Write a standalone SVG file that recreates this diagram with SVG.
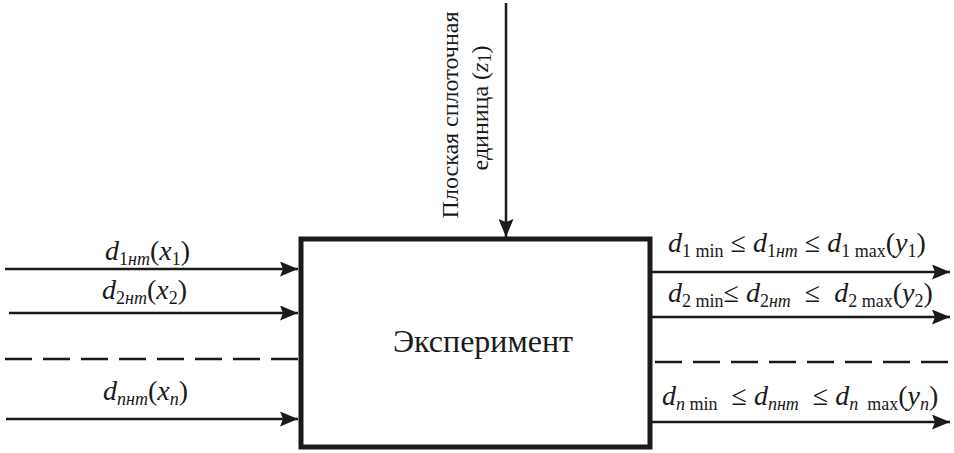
<svg xmlns="http://www.w3.org/2000/svg" width="954" height="453" viewBox="0 0 954 453">
<defs>
<marker id="ah" markerUnits="userSpaceOnUse" markerWidth="19" markerHeight="15" refX="18" refY="7.5" orient="auto" viewBox="0 0 19 15">
<path d="M0,0 L18,7.5 L0,15 L3,7.5 z" fill="#1a1a1a"/>
</marker>
<style>
text{font-family:"Liberation Serif","Times New Roman",serif;fill:#1a1a1a;}
.m{font-size:28px;}
.i{font-style:italic;}
.s{font-size:18px;}
.v{font-size:24px;}
.c{font-size:32px;}
.ln{stroke:#1a1a1a;stroke-width:2.5;fill:none;}
.ar{marker-end:url(#ah);}
.da{stroke-dasharray:27 11;}
</style>
</defs>
<rect width="954" height="453" fill="#ffffff"/>
<g id="connectors">
<line class="ln ar" x1="506" y1="3" x2="506" y2="237"/>
<line class="ln ar" x1="5" y1="269" x2="298" y2="269"/>
<line class="ln ar" x1="9" y1="313" x2="298" y2="313"/>
<line class="ln da" x1="5" y1="359" x2="298" y2="359"/>
<line class="ln ar" x1="6" y1="419" x2="298" y2="419"/>
<line class="ln ar" x1="652" y1="272" x2="950" y2="272"/>
<line class="ln ar" x1="652" y1="317" x2="950" y2="317"/>
<line class="ln da" x1="655" y1="362" x2="950" y2="362"/>
<line class="ln ar" x1="652" y1="422" x2="950" y2="422"/>
</g>
<g id="experiment">
<rect x="301" y="239" width="349" height="208" fill="none" stroke="#1a1a1a" stroke-width="5"/>
<text class="c" x="483" y="352" text-anchor="middle">Эксперимент</text>
</g>
<g id="input-z1">
<text class="v" transform="translate(458,115) rotate(-90)" text-anchor="middle">Плоская сплоточная</text>
<text class="v" transform="translate(488,108) rotate(-90)" text-anchor="middle">единица (<tspan class="i">z</tspan><tspan class="s" dy="3">1</tspan><tspan dy="-3">)</tspan></text>
</g>
<g id="input-labels">
<text class="m" x="105" y="260"><tspan class="i">d</tspan><tspan class="s" dy="5">1</tspan><tspan class="s i">нт</tspan><tspan dy="-5">(</tspan><tspan class="i">x</tspan><tspan class="s" dy="5">1</tspan><tspan dy="-5">)</tspan></text>
<text class="m" x="102" y="299"><tspan class="i">d</tspan><tspan class="s" dy="5">2</tspan><tspan class="s i">нт</tspan><tspan dy="-5">(</tspan><tspan class="i">x</tspan><tspan class="s" dy="5">2</tspan><tspan dy="-5">)</tspan></text>
<text class="m" x="103" y="400"><tspan class="i">d</tspan><tspan class="s i" dy="5">nнт</tspan><tspan dy="-5">(</tspan><tspan class="i">x</tspan><tspan class="s i" dy="5">n</tspan><tspan dy="-5">)</tspan></text>
</g>
<g id="output-labels">
<text class="m" x="668" y="252"><tspan class="i">d</tspan><tspan class="s" dy="5">1 min</tspan><tspan dy="-5"> ≤ </tspan><tspan class="i">d</tspan><tspan class="s" dy="5">1</tspan><tspan class="s i">нт</tspan><tspan dy="-5"> ≤ </tspan><tspan class="i">d</tspan><tspan class="s" dy="5">1 max</tspan><tspan dy="-5">(</tspan><tspan class="i">y</tspan><tspan class="s" dy="5">1</tspan><tspan dy="-5">)</tspan></text>
<text class="m" x="668" y="302"><tspan class="i">d</tspan><tspan class="s" dy="5">2 min</tspan><tspan dy="-5">≤ </tspan><tspan class="i">d</tspan><tspan class="s" dy="5">2</tspan><tspan class="s i">нт</tspan><tspan dy="-5">&#160; ≤ &#160;</tspan><tspan class="i">d</tspan><tspan class="s" dy="5">2 max</tspan><tspan dy="-5">(</tspan><tspan class="i">y</tspan><tspan class="s" dy="5">2</tspan><tspan dy="-5">)</tspan></text>
<text class="m" x="662" y="405"><tspan class="i">d</tspan><tspan class="s i" dy="5">n</tspan><tspan class="s"> min</tspan><tspan dy="-5">&#160; ≤ </tspan><tspan class="i">d</tspan><tspan class="s i" dy="5">nнт</tspan><tspan dy="-5">&#160; ≤ </tspan><tspan class="i">d</tspan><tspan class="s i" dy="5">n</tspan><tspan class="s">&#160; max</tspan><tspan dy="-5">(</tspan><tspan class="i">y</tspan><tspan class="s i" dy="5">n</tspan><tspan dy="-5">)</tspan></text>
</g>
</svg>
